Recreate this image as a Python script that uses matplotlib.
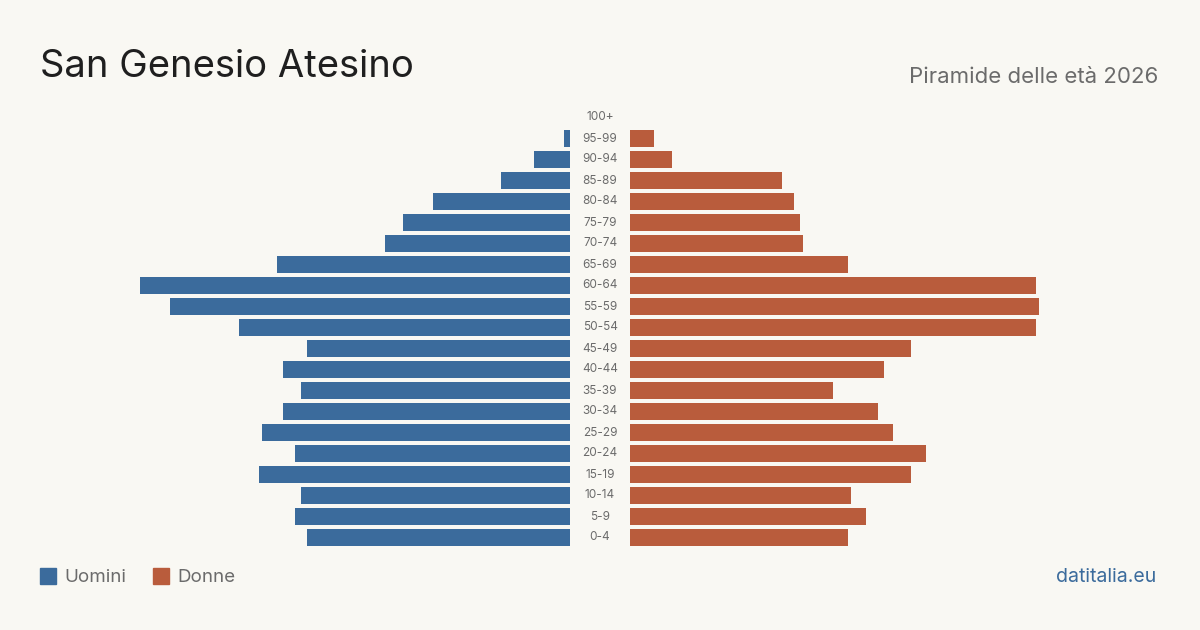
import matplotlib.pyplot as plt
import numpy as np

plt.rcParams['font.family'] = ['Inter', 'DejaVu Sans']

# age groups, youngest first
age_groups = ['0-4', '5-9', '10-14', '15-19', '20-24', '25-29', '30-34', '35-39',
              '40-44', '45-49', '50-54', '55-59', '60-64', '65-69', '70-74',
              '75-79', '80-84', '85-89', '90-94', '95-99', '100+']
men = [44, 46, 45, 52, 46, 51.5, 48, 45, 48, 44, 55.5, 67, 72, 49, 31, 28, 23, 11.5, 6, 1, 0]
women = [36.5, 39.5, 37, 47, 49.5, 44, 41.5, 34, 42.5, 47, 68, 68.5, 68, 36.5, 29, 28.5, 27.5, 25.5, 7, 4, 0]

bg = '#f9f8f3'
blue = '#3b6b9c'
orange = '#b95c3c'
grey = '#6b6b6b'

fig = plt.figure(figsize=(12, 6.3), dpi=100, facecolor=bg)

bottom = 1 - 548 / 630
height = 441 / 630
ax_l = fig.add_axes([140 / 1200, bottom, 430 / 1200, height])
ax_r = fig.add_axes([630 / 1200, bottom, 430 / 1200, height])

y = np.arange(len(age_groups))
ax_l.barh(y, men, height=0.8, color=blue)
ax_r.barh(y, women, height=0.8, color=orange)

xmax = 72
ax_l.set_xlim(xmax, 0)
ax_r.set_xlim(0, xmax)
for ax in (ax_l, ax_r):
    ax.set_ylim(-0.5, len(age_groups) - 0.5)
    ax.axis('off')
    ax.set_facecolor('none')

# age labels in the gap between the two sides
for i, lab in enumerate(age_groups):
    ax_r.annotate(lab, xy=(0, i), xycoords='data', xytext=(-30, 0),
                  textcoords='offset pixels', ha='center', va='center',
                  fontsize=8.5, color=grey, annotation_clip=False)

fig.text(40 / 1200, 1 - 67 / 630, 'San Genesio Atesino', fontsize=27.5,
         color='#1f1f1f', va='center', ha='left')
fig.text(1158 / 1200, 1 - 77 / 630, 'Piramide delle età 2026', fontsize=16,
         color=grey, va='center', ha='right')

# legend
fig.patches.append(plt.Rectangle((40 / 1200, 1 - 584 / 630), 16 / 1200, 16 / 630,
                                 transform=fig.transFigure, color=blue))
fig.text(64 / 1200, 1 - 577 / 630, 'Uomini', fontsize=13.5, color=grey, va='center')
fig.patches.append(plt.Rectangle((153 / 1200, 1 - 584 / 630), 16 / 1200, 16 / 630,
                                 transform=fig.transFigure, color=orange))
fig.text(177 / 1200, 1 - 577 / 630, 'Donne', fontsize=13.5, color=grey, va='center')

fig.text(1156 / 1200, 1 - 577 / 630, 'datitalia.eu', fontsize=14, color=blue,
         va='center', ha='right')

fig.savefig('out.png', dpi=100, facecolor=bg)
